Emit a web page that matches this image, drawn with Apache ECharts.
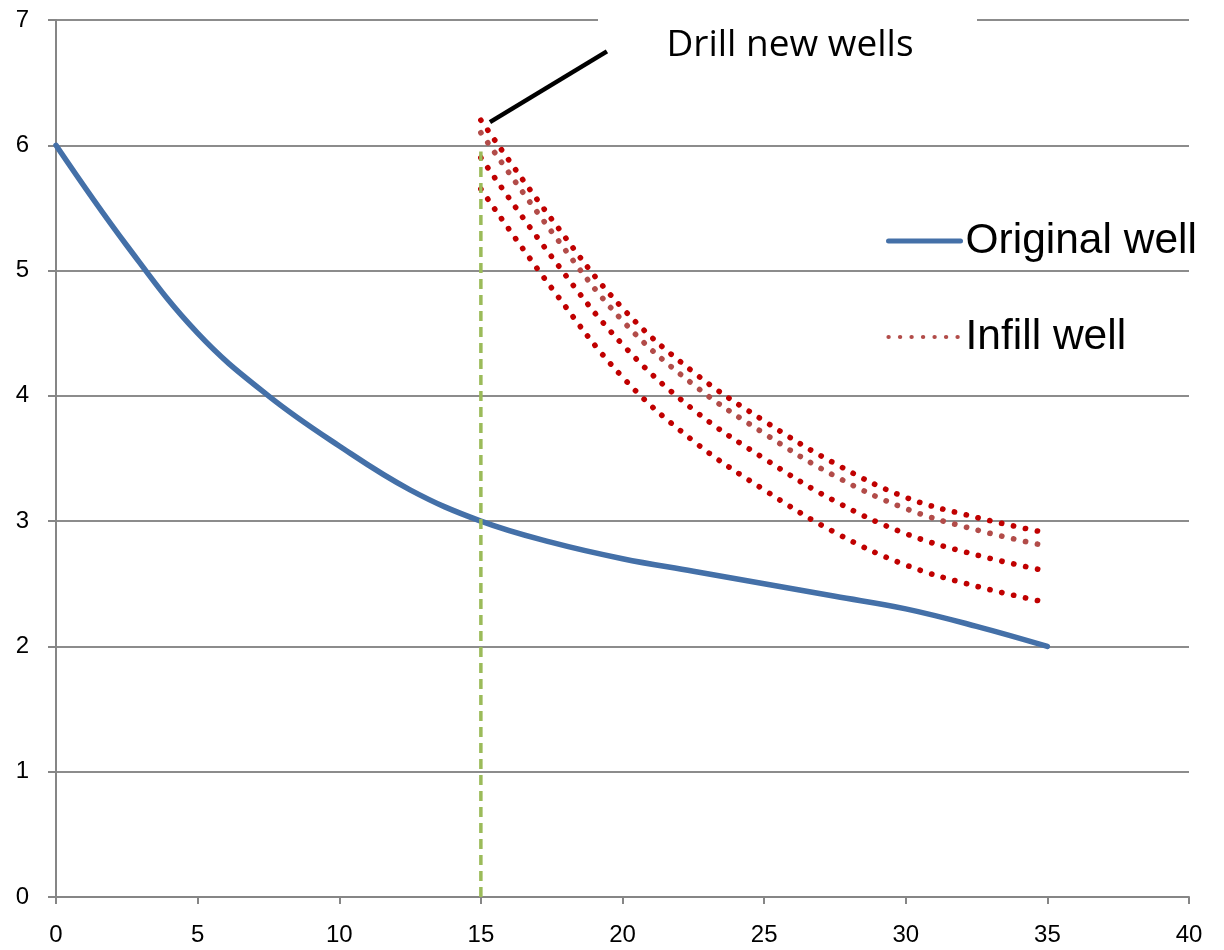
<!DOCTYPE html>
<html>
<head>
<meta charset="utf-8">
<script src="https://cdn.jsdelivr.net/npm/echarts@6/dist/echarts.min.js"></script>
<style>
html,body{margin:0;padding:0;background:#fff;}
#chart{width:1224px;height:950px;}
</style>
</head>
<body>
<div id="chart"></div>
<script>
// ---- data ----
const originalX = [0, 2.5, 5, 7.5, 10, 12.5, 15, 17.5, 20, 22.5, 25, 27.5, 30, 32.5, 35];
const originalY = [6.0, 5.2, 4.5, 4.0, 3.6, 3.25, 3.0, 2.83, 2.7, 2.6, 2.5, 2.4, 2.3, 2.16, 2.0];

const infillX = [15, 17.5, 20, 22.5, 25, 27.5, 30, 32.5, 35];
const infillTop    = [6.20, 5.41, 4.70, 4.19, 3.80, 3.46, 3.19, 3.03, 2.905];
const infillMain   = [6.10, 5.31, 4.60, 4.09, 3.70, 3.36, 3.10, 2.93, 2.80];
const infillThird  = [5.90, 5.11, 4.41, 3.89, 3.50, 3.16, 2.90, 2.73, 2.60];
const infillBottom = [5.65, 4.86, 4.15, 3.64, 3.25, 2.91, 2.65, 2.48, 2.35];

const drillX = [15, 15];
const drillY = [0, 5.95];

const calloutX = [15.32, 19.45];
const calloutY = [6.185, 6.75];
const calloutText = 'Drill new wells';

const xTicks = [0, 5, 10, 15, 20, 25, 30, 35, 40];
const yTicks = [0, 1, 2, 3, 4, 5, 6, 7];

const zip = (xs, ys) => xs.map((x, i) => [x, ys[i]]);

const chart = echarts.init(document.getElementById('chart'), null, {renderer: 'canvas'});

const DOT = [0.2, 11.9];
const dotStyle = (color) => ({color: color, width: 5.6, type: DOT, cap: 'round', join: 'round'});

const option = {
  animation: false,
  backgroundColor: '#ffffff',
  grid: {left: 56, right: 35, top: 20, bottom: 53, containLabel: false},
  legend: {
    data: [
      {name: 'Original well', lineStyle: {color: '#4470A8', width: 5, type: 'solid', cap: 'round'}},
      {name: 'Infill well', lineStyle: {color: '#B24C49', width: 4.2, type: [0.2, 11.3], cap: 'round'}}
    ],
    orient: 'vertical',
    left: 886, top: 217, padding: 0,
    itemWidth: 72, itemHeight: 14, itemGap: 48,
    itemStyle: {opacity: 0},
    textStyle: {fontFamily: 'Liberation Sans, Arial, sans-serif', fontSize: 42.5, color: '#000', lineHeight: 48}
  },
  xAxis: {
    type: 'value', min: xTicks[0], max: xTicks[xTicks.length - 1], interval: 5,
    axisLine: {show: true, onZero: false, lineStyle: {color: '#868686', width: 2}},
    axisTick: {show: true, length: 7, lineStyle: {color: '#868686', width: 2}},
    axisLabel: {fontFamily: 'Liberation Sans, Arial, sans-serif', fontSize: 24, color: '#000', margin: 26},
    splitLine: {show: false}
  },
  yAxis: {
    type: 'value', min: yTicks[0], max: yTicks[yTicks.length - 1], interval: 1,
    axisLine: {show: true, onZero: false, lineStyle: {color: '#868686', width: 2}},
    axisTick: {show: true, length: 8, lineStyle: {color: '#868686', width: 2}},
    axisLabel: {fontFamily: 'Liberation Sans, Arial, sans-serif', fontSize: 24, color: '#000', margin: 27},
    splitLine: {show: true, lineStyle: {color: '#8c8c8c', width: 2}}
  },
  series: [
    {
      name: 'Original well', type: 'line', smooth: 0.4, symbol: 'none',
      data: zip(originalX, originalY),
      lineStyle: {color: '#4470A8', width: 5.5, cap: 'round'},
      itemStyle: {color: '#4470A8'}, z: 3
    },
    {
      name: 'Infill well A', type: 'line', smooth: 0.4, symbol: 'none',
      data: zip(infillX, infillTop), lineStyle: dotStyle('#C00000'), itemStyle: {color: '#C00000'}, z: 4
    },
    {
      name: 'Infill well', type: 'line', smooth: 0.4, symbol: 'none',
      data: zip(infillX, infillMain), lineStyle: dotStyle('#B24C49'), itemStyle: {color: '#B24C49'}, z: 4
    },
    {
      name: 'Infill well C', type: 'line', smooth: 0.4, symbol: 'none',
      data: zip(infillX, infillThird), lineStyle: dotStyle('#C00000'), itemStyle: {color: '#C00000'}, z: 4
    },
    {
      name: 'Infill well D', type: 'line', smooth: 0.4, symbol: 'none',
      data: zip(infillX, infillBottom), lineStyle: dotStyle('#C00000'), itemStyle: {color: '#C00000'}, z: 4
    },
    {
      name: 'Drill marker', type: 'line', symbol: 'none',
      data: zip(drillX, drillY),
      lineStyle: {color: '#9BBB59', width: 3.5, type: [10, 6]}, z: 5
    },
    {
      name: 'Callout', type: 'line', symbol: 'none',
      data: zip(calloutX, calloutY),
      lineStyle: {color: '#000', width: 4.5}, z: 6
    }
  ],
  graphic: [
    {type: 'rect', z: 100, shape: {x: 598, y: 10, width: 379, height: 24}, style: {fill: '#fff'}},
    {type: 'text', z: 101, x: 790, y: 45,
     style: {text: calloutText, fontSize: 37, fontFamily: 'Open Sans', fill: '#000',
             align: 'center', verticalAlign: 'middle'}}
  ]
};
chart.setOption(option);
</script>
</body>
</html>
